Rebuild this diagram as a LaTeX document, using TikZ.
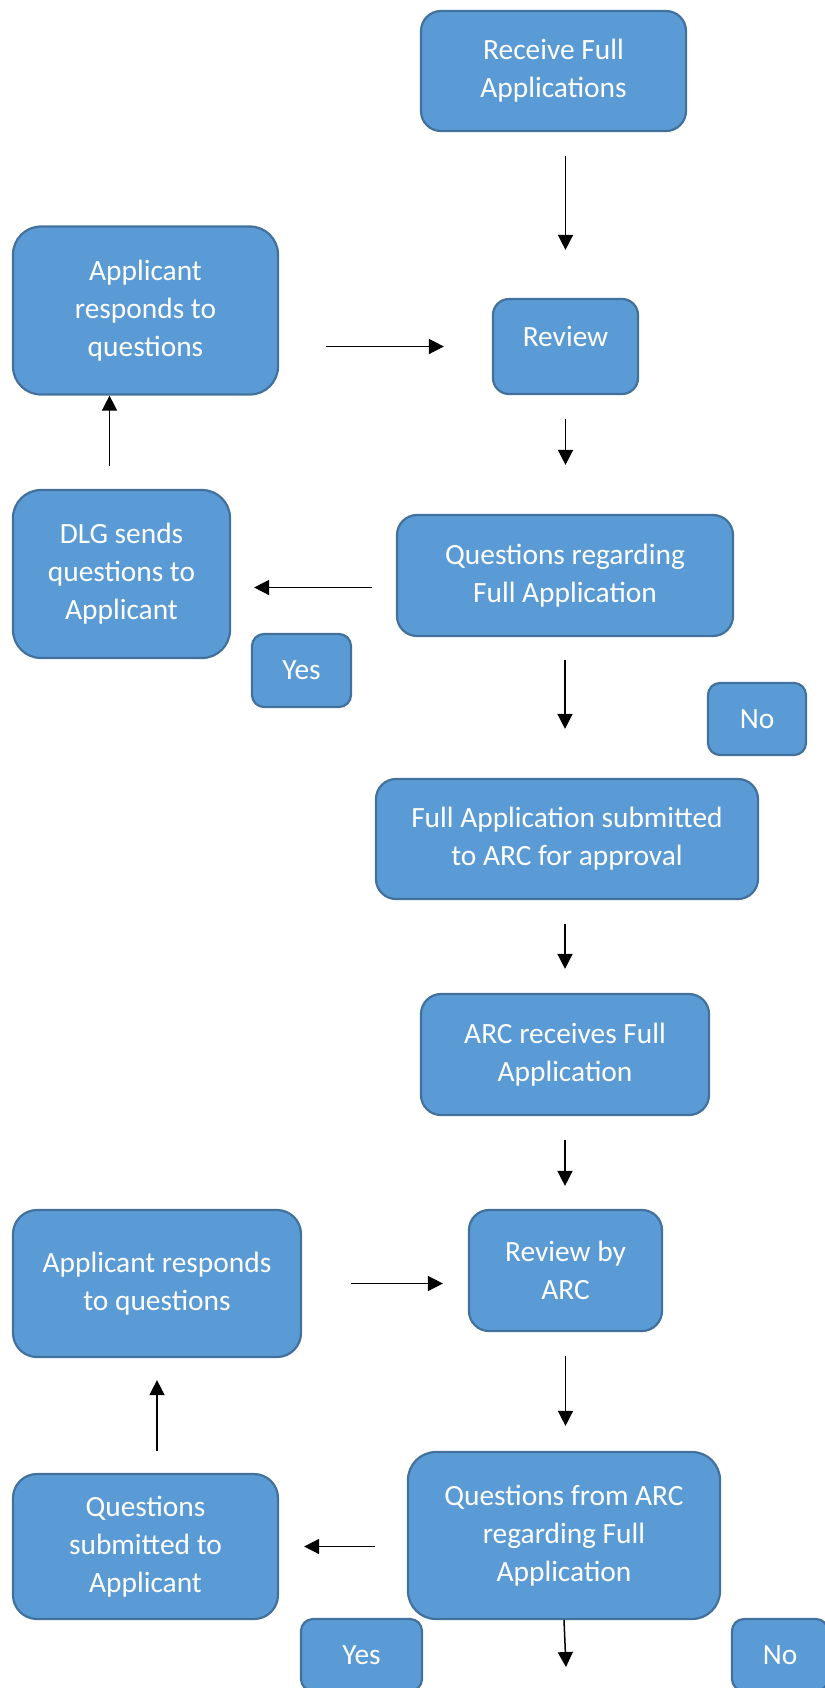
\documentclass[tikz,border=0pt]{standalone}
\usepackage{fontspec}
\setmainfont{Carlito}
\usetikzlibrary{arrows.meta,positioning}
\definecolor{boxfill}{HTML}{5B9BD5}
\definecolor{boxline}{HTML}{41719C}

\begin{document}
\begin{tikzpicture} [x=0.5pt, y=-0.5pt,
         flowbox/.style={draw=boxline, fill=boxfill, line width=1.1pt, rounded corners=#1,
            text=white, align=center, inner sep=2pt, font=\fontsize{14.7}{19}\selectfont},
         flowbox/.default=10pt,
         flow/.style={line width=0.75pt, -{Triangle[length=7.5pt,width=7.5pt]}}]
   \useasboundingbox (0,0) rectangle (825,1688);
   \node[flowbox, minimum width=132.5pt, minimum height=60pt] (receive) at (553.5,71) {Receive Full\\Applications};
   \node[flowbox=8pt, minimum width=72.5pt, minimum height=47.5pt, text depth=10pt] (review) at (565.5,346.5) {Review};
   \node[flowbox=14pt, minimum width=132.5pt, minimum height=84pt] (respondA) at (145.5,310.5) {Applicant\\responds to\\questions};
   \node[flowbox=14pt, minimum width=108.5pt, minimum height=84pt] (sendQ) at (121.5,574) {DLG sends\\questions to\\Applicant};
   \node[flowbox=6pt, minimum width=49.5pt, minimum height=36.5pt] (yesA) at (301.5,670.5) {Yes};
   \node[flowbox, minimum width=168pt, minimum height=60.5pt] (questionsA) at (565,575.5) {Questions regarding\\Full Application};
   \node[flowbox=6pt, minimum width=49pt, minimum height=36pt] (noA) at (757,719) {No};
   \node[flowbox, minimum width=191pt, minimum height=60pt] (submitted) at (567,839) {Full Application submitted\\to ARC for approval};
   \node[flowbox, minimum width=144pt, minimum height=60.5pt] (arcReceives) at (565,1054.5) {ARC receives Full\\Application};
   \node[flowbox, minimum width=96.5pt, minimum height=60.5pt] (arcReview) at (565.5,1270.5) {Review by\\ARC};
   \node[flowbox=12pt, minimum width=144pt, minimum height=73.5pt] (respondB) at (157,1283.5) {Applicant responds\\to questions};
   \node[flowbox=14pt, minimum width=156pt, minimum height=83.5pt] (questionsB) at (564,1535.5) {Questions from ARC\\regarding Full\\Application};
   \node[flowbox=12pt, minimum width=132.5pt, minimum height=72.5pt] (submittedQ) at (145.5,1546.5) {Questions\\submitted to\\Applicant};
   \node[flowbox=6pt, minimum width=60.5pt, minimum height=36pt] (yesB) at (361.5,1655) {Yes};
   \node[flowbox=6pt, minimum width=48pt, minimum height=36pt] (noB) at (780,1655) {No};
   \coordinate (qend) at (566,1667);

   \draw[flow, shorten <=12pt, shorten >=24pt] (receive.south -| review.north) -- (review.north);
   \draw[flow, shorten <=23.5pt, shorten >=24pt] (respondA.east |- review.west) -- (review.west);
   \draw[flow, shorten <=12pt, shorten >=24.5pt] (review.south) -- (review.south |- questionsA.north);
   \draw[flow, shorten <=12pt, shorten >=11.5pt] ([yshift=-6pt]questionsA.west) -- ([yshift=-6pt]questionsA.west -| sendQ.east);
   \draw[flow, shorten <=11.5pt] ([xshift=-6pt]sendQ.north) -- ([xshift=-6pt]sendQ.north |- respondA.south);
   \draw[flow, shorten <=11.5pt, shorten >=24.5pt] (questionsA.south) -- (questionsA.south |- submitted.north);
   \draw[flow, shorten <=12pt, shorten >=12pt] (arcReceives.north |- submitted.south) -- (arcReceives.north);
   \draw[flow, shorten <=12pt, shorten >=11.5pt] (arcReceives.south) -- (arcReceives.south |- arcReview.north);
   \draw[flow, shorten <=24.5pt, shorten >=12.5pt] (respondB.east) -- (respondB.east -| arcReview.west);
   \draw[flow, shorten <=12pt, shorten >=12.5pt] (arcReview.south) -- (arcReview.south |- questionsB.north);
   \draw[flow, shorten <=11pt, shorten >=11pt] (respondB.south |- submittedQ.north) -- (respondB.south);
   \draw[flow, shorten <=16pt, shorten >=12.5pt] (questionsB.west |- submittedQ.east) -- (submittedQ.east);
   \draw[flow] (questionsB.south) -- (qend);
\end{tikzpicture}
\end{document}
